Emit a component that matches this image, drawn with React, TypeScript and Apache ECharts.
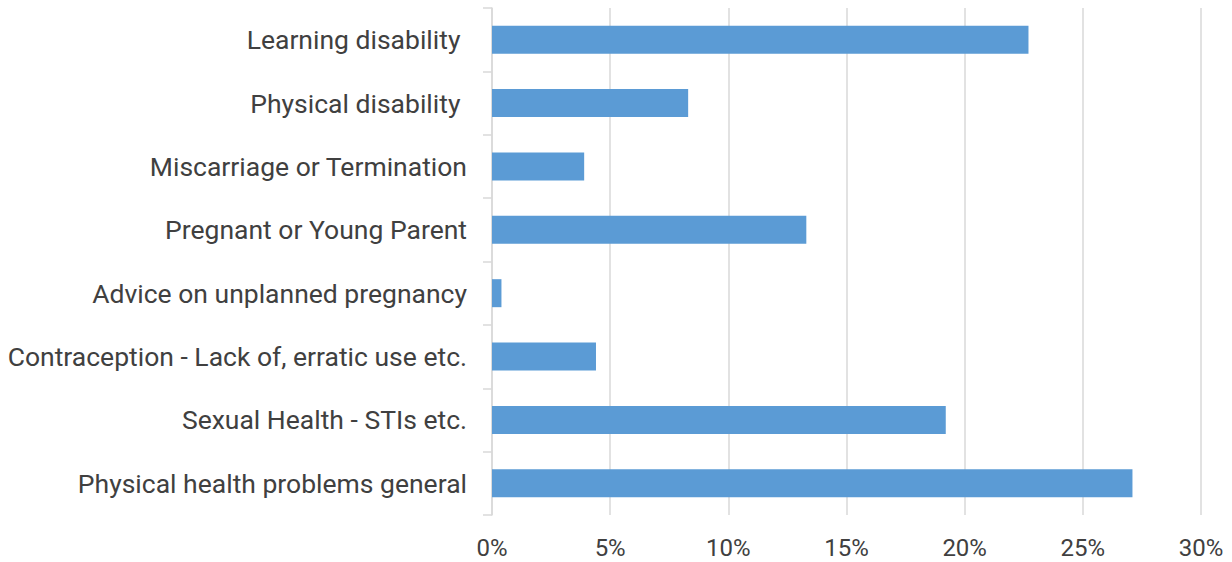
import React, { useEffect, useRef } from "react";
import * as echarts from "echarts";

const categories = [
  "Learning disability ",
  "Physical disability ",
  "Miscarriage or Termination",
  "Pregnant or Young Parent",
  "Advice on unplanned pregnancy",
  "Contraception - Lack of, erratic use etc.",
  "Sexual Health - STIs etc.",
  "Physical health problems general",
];
const values = [22.7, 8.3, 3.9, 13.3, 0.4, 4.4, 19.2, 27.1];
const axisMax = 30;
const axisStep = 5;

const FONT = "Roboto, 'Liberation Sans', sans-serif";

export default function App() {
  const ref = useRef<HTMLDivElement>(null);
  useEffect(() => {
    if (!ref.current) return;
    const chart = echarts.init(ref.current, null, { renderer: "svg" });
    chart.setOption({
      animation: false,
      backgroundColor: "#ffffff",
      grid: { left: 492, right: 31, top: 8, bottom: 47, containLabel: false },
      xAxis: {
        type: "value",
        min: 0,
        max: axisMax,
        interval: axisStep,
        axisLine: { show: false },
        axisTick: { show: false },
        splitLine: { show: true, lineStyle: { color: "#d9d9d9", width: 1.5 } },
        axisLabel: {
          formatter: (v: number) => v + "%",
          color: "#404040",
          fontSize: 24,
          fontFamily: FONT,
          margin: 21,
        },
      },
      yAxis: {
        type: "category",
        data: categories,
        inverse: true,
        axisLine: { show: true, lineStyle: { color: "#d9d9d9", width: 1.5 } },
        axisTick: { show: true, length: 9, lineStyle: { color: "#d9d9d9", width: 1.5 } },
        axisLabel: {
          color: "#404040",
          fontSize: 26.5,
          fontFamily: FONT,
          margin: 25,
        },
      },
      series: [
        {
          type: "bar",
          data: values,
          barWidth: 28,
          itemStyle: { color: "#5b9bd5" },
        },
      ],
    });
    return () => chart.dispose();
  }, []);
  return <div ref={ref} style={{ width: 1232, height: 562, position: "absolute", left: 0, top: 0 }} />;
}
